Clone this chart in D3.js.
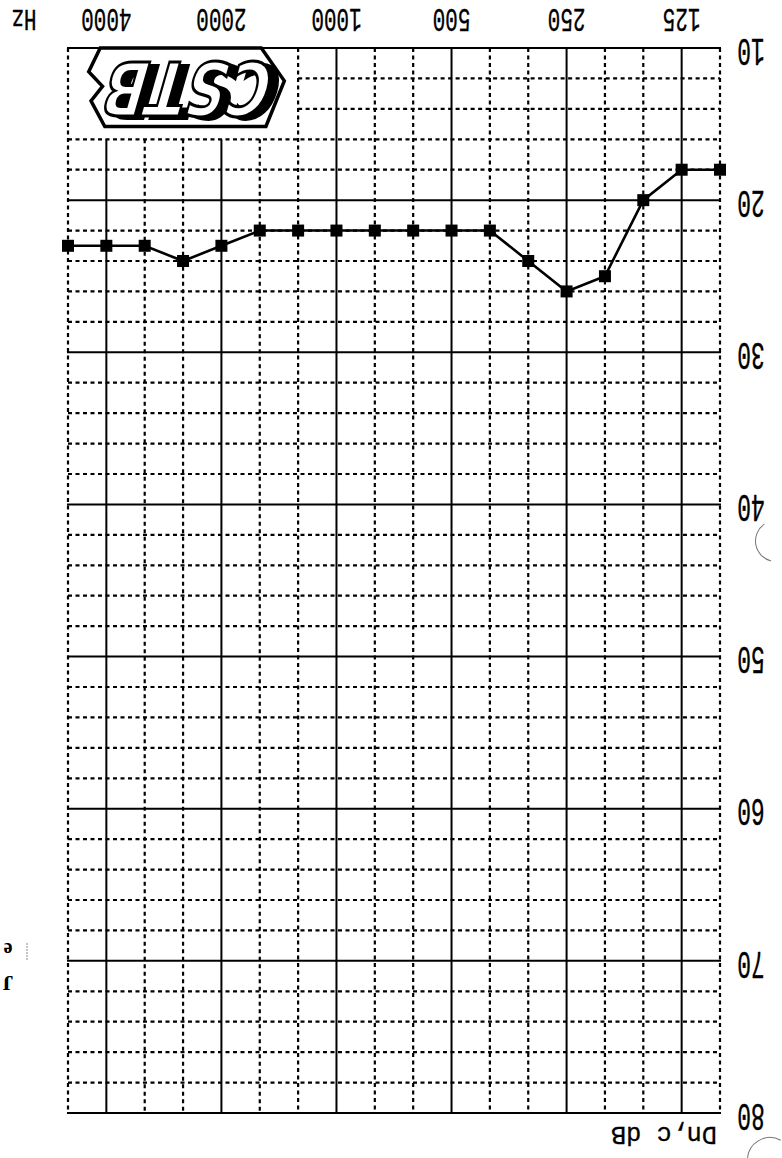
<!DOCTYPE html>
<html>
<head>
<meta charset="utf-8">
<script src="https://cdn.jsdelivr.net/npm/d3@7"></script>
<style>
  body { margin: 0; background: #fff; }
  svg { display: block; }
</style>
</head>
<body>
<div id="chart"></div>
<script>
// third-octave bands and the measured Dn,c values (dB)
const freqs = [100, 125, 160, 200, 250, 315, 400, 500, 630, 800, 1000, 1250, 1600, 2000, 2500, 3150, 4000, 5000];
const dnc = [18, 18, 20, 25, 26, 24, 22, 22, 22, 22, 22, 22, 22, 23, 24, 23, 23, 23];
const octaveLabels = ["125", "250", "500", "1000", "2000", "4000"];
const dbLabels = ["10", "20", "30", "40", "50", "60", "70", "80"];

const W = 782, H = 1158;
const plot = {left: 68, right: 720, top: 48, bottom: 1113};

const svg = d3.select("#chart")
              .append("svg")
              .attr("width", W)
              .attr("height", H);

svg.append("rect").attr("width", W).attr("height", H).attr("fill", "#fff");

// the sheet is scanned upside down: high frequencies on the left, 10 dB at the top
const x = d3.scalePoint()
            .domain(freqs)
            .range([plot.right, plot.left]);

const y = d3.scaleLinear()
            .domain([10, 80])
            .range([plot.top, plot.bottom]);

const octaves = octaveLabels.map(Number);
const dbSteps = d3.range(10, 81, 2);

// grid — logo sits in the 5000..1250 Hz / 10..16 dB corner
const inLogoCols = f => f > 1250 && f < 5000;
const grid = svg.append("g");

const vlines = freqs.map(f => ({
  x: x(f),
  y1: inLogoCols(f) ? y(16) : y(10),
  y2: y(80),
  solid: octaves.includes(f)
}));
const hlines = dbSteps.map(v => ({
  y: y(v),
  x1: (v === 12 || v === 14) ? x(1250) : x(5000),
  x2: x(100),
  solid: v % 10 === 0
}));

grid.selectAll(".hdot")
    .data(hlines.filter(d => !d.solid))
    .enter()
    .append("line")
    .attr("x1", d => d.x1).attr("x2", d => d.x2)
    .attr("y1", d => d.y).attr("y2", d => d.y)
    .attr("stroke", "#000")
    .attr("stroke-width", 2.2)
    .attr("stroke-dasharray", "4,3.5");

grid.selectAll(".vdot")
    .data(vlines.filter(d => !d.solid))
    .enter()
    .append("line")
    .attr("x1", d => d.x).attr("x2", d => d.x)
    .attr("y1", d => d.y1).attr("y2", d => d.y2)
    .attr("stroke", "#000")
    .attr("stroke-width", 2.2)
    .attr("stroke-dasharray", "4,3.5");

grid.selectAll(".hsolid")
    .data(hlines.filter(d => d.solid))
    .enter()
    .append("line")
    .attr("x1", d => d.x1 - 1).attr("x2", d => d.x2 + 1)
    .attr("y1", d => d.y).attr("y2", d => d.y)
    .attr("stroke", "#000")
    .attr("stroke-width", 2);

grid.selectAll(".vsolid")
    .data(vlines.filter(d => d.solid))
    .enter()
    .append("line")
    .attr("x1", d => d.x).attr("x2", d => d.x)
    .attr("y1", d => d.y1).attr("y2", d => d.y2)
    .attr("stroke", "#000")
    .attr("stroke-width", 2);

// CSTB logo, upside down like the rest of the sheet
const logo = svg.append("g");
const lx = d3.scaleLinear().domain([0, 1]).range([x(5000), x(1250)]);
const ly = d3.scaleLinear().domain([0, 1]).range([y(10), y(16)]);
const outline = [[0.14, 0.0], [0.84, 0.0], [0.94, 0.36], [0.86, 0.86], [0.16, 0.86],
                 [0.10, 0.58], [0.15, 0.42], [0.09, 0.26]];
logo.append("polygon")
    .attr("points", outline.map(p => [lx(p[0]), ly(p[1])].join(",")).join(" "))
    .attr("fill", "#fff")
    .attr("stroke", "#000")
    .attr("stroke-width", 3.5);

const logoText = (dx, dy) => logo.append("text")
    .attr("transform", `translate(${lx(0.52) + dx},${ly(0.43) + dy}) rotate(180) skewX(-16)`)
    .attr("text-anchor", "middle")
    .attr("dominant-baseline", "central")
    .attr("textLength", 166)
    .attr("lengthAdjust", "spacingAndGlyphs")
    .style("font-family", "DejaVu Sans")
    .style("font-weight", "bold")
    .style("font-size", "74px")
    .text("CSTB");

// black shadow behind the white letters
logoText(9, 3).attr("fill", "#000").attr("stroke", "#000").attr("stroke-width", 2);
logoText(0, 0).attr("fill", "#fff").attr("stroke", "#000").attr("stroke-width", 3);

// measured curve
const pts = freqs.map((f, i) => ({f: f, v: dnc[i]}));

svg.append("path")
   .datum(pts)
   .attr("fill", "none")
   .attr("stroke", "#000")
   .attr("stroke-width", 2.6)
   .attr("d", d3.line().x(d => x(d.f)).y(d => y(d.v)));

svg.selectAll(".pt")
   .data(pts)
   .enter()
   .append("rect")
   .attr("x", d => x(d.f) - 6)
   .attr("y", d => y(d.v) - 6)
   .attr("width", 12)
   .attr("height", 12)
   .attr("fill", "#000");

// labels (rotated 180 degrees)
const mono = "'Liberation Mono', 'DejaVu Sans Mono', monospace";

svg.selectAll(".xl")
   .data(octaveLabels)
   .enter()
   .append("text")
   .attr("transform", d => `translate(${x(+d)},18) rotate(180) scale(1,1.55)`)
   .attr("text-anchor", "middle")
   .attr("dominant-baseline", "central")
   .style("font-family", mono)
   .style("font-size", "21px")
   .attr("fill", "#000")
   .attr("stroke", "#000")
   .attr("stroke-width", 0.25)
   .text(d => d);

svg.append("text")
   .attr("transform", "translate(24,17) rotate(180) scale(1,1.4)")
   .attr("text-anchor", "middle")
   .attr("dominant-baseline", "central")
   .style("font-family", mono)
   .style("font-size", "21px")
   .attr("stroke", "#000")
   .attr("stroke-width", 0.3)
   .text("Hz");

svg.selectAll(".yl")
   .data(dbLabels)
   .enter()
   .append("text")
   .attr("transform", d => `translate(751,${y(+d) + 1}) rotate(180) scale(1,1.65)`)
   .attr("text-anchor", "middle")
   .attr("dominant-baseline", "central")
   .style("font-family", mono)
   .style("font-size", "23px")
   .attr("fill", "#000")
   .attr("stroke", "#000")
   .attr("stroke-width", 0.25)
   .text(d => d);

svg.append("text")
   .attr("transform", `translate(664,${y(80) + 21}) rotate(180) scale(1,1.25)`)
   .attr("text-anchor", "middle")
   .attr("dominant-baseline", "central")
   .attr("textLength", 106)
   .attr("lengthAdjust", "spacingAndGlyphs")
   .style("font-family", mono)
   .style("font-size", "21px")
   .attr("stroke", "#000")
   .attr("stroke-width", 0.25)
   .text("Dn,c  dB");

// scan leftovers at the page edge
svg.append("text")
   .attr("transform", "translate(8,950) rotate(180)")
   .attr("text-anchor", "middle")
   .attr("dominant-baseline", "central")
   .style("font-family", "Liberation Serif")
   .style("font-weight", "bold")
   .style("font-size", "20px")
   .text("e");
svg.append("text")
   .attr("transform", "translate(8,983) rotate(180)")
   .attr("text-anchor", "middle")
   .attr("dominant-baseline", "central")
   .style("font-family", "Liberation Serif")
   .style("font-weight", "bold")
   .style("font-size", "22px")
   .text("J");
svg.append("line")
   .attr("x1", 27).attr("x2", 27).attr("y1", 943).attr("y2", 960)
   .attr("stroke", "#888").attr("stroke-width", 1).attr("stroke-dasharray", "2,1");

const arc = d3.arc();
svg.append("path")
   .attr("transform", "translate(776,541)")
   .attr("d", arc({innerRadius: 20, outerRadius: 21, startAngle: -2.9, endAngle: -0.6}))
   .attr("fill", "#777");
svg.append("path")
   .attr("transform", "translate(770,1160)")
   .attr("d", arc({innerRadius: 22, outerRadius: 23, startAngle: -1.6, endAngle: 0.5}))
   .attr("fill", "#777");
</script>
</body>
</html>
